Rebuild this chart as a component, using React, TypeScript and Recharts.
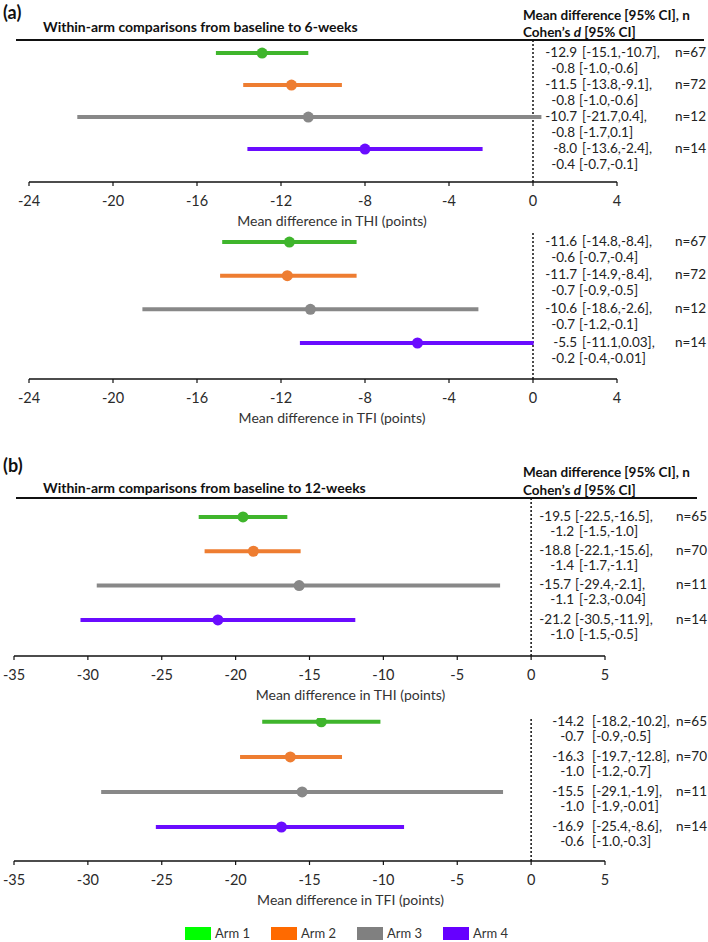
import React from 'react';
import {
  ScatterChart,
  Scatter,
  XAxis,
  YAxis,
  ErrorBar,
  ReferenceLine
} from 'recharts';

const arms = ['Arm 1', 'Arm 2', 'Arm 3', 'Arm 4'];
const armColors = ['#3fb52c', '#ee7d31', '#888888', '#6a0cff'];
const legendColors = ['#00ff00', '#ff6a00', '#808080', '#6600ff'];

const ticks6 = [-24, -20, -16, -12, -8, -4, 0, 4];
const ticks12 = [-35, -30, -25, -20, -15, -10, -5, 0, 5];

// (a) baseline to 6 weeks, THI
const thi6Mean = [-12.9, -11.5, -10.7, -8.0];
const thi6Lo = [-15.1, -13.8, -21.7, -13.6];
const thi6Hi = [-10.7, -9.1, 0.4, -2.4];
const thi6N = [67, 72, 12, 14];
const thi6D = [-0.8, -0.8, -0.8, -0.4];
const thi6DLo = [-1.0, -1.0, -1.7, -0.7];
const thi6DHi = [-0.6, -0.6, 0.1, -0.1];

// (a) baseline to 6 weeks, TFI
const tfi6Mean = [-11.6, -11.7, -10.6, -5.5];
const tfi6Lo = [-14.8, -14.9, -18.6, -11.1];
const tfi6Hi = [-8.4, -8.4, -2.6, 0.03];
const tfi6N = [67, 72, 12, 14];
const tfi6D = [-0.6, -0.7, -0.7, -0.2];
const tfi6DLo = [-0.7, -0.9, -1.2, -0.4];
const tfi6DHi = [-0.4, -0.5, -0.1, -0.01];

// (b) baseline to 12 weeks, THI
const thi12Mean = [-19.5, -18.8, -15.7, -21.2];
const thi12Lo = [-22.5, -22.1, -29.4, -30.5];
const thi12Hi = [-16.5, -15.6, -2.1, -11.9];
const thi12N = [65, 70, 11, 14];
const thi12D = [-1.2, -1.4, -1.1, -1.0];
const thi12DLo = [-1.5, -1.7, -2.3, -1.5];
const thi12DHi = [-1.0, -1.1, -0.04, -0.5];

// (b) baseline to 12 weeks, TFI
const tfi12Mean = [-14.2, -16.3, -15.5, -16.9];
const tfi12Lo = [-18.2, -19.7, -29.1, -25.4];
const tfi12Hi = [-10.2, -12.8, -1.9, -8.6];
const tfi12N = [65, 70, 11, 14];
const tfi12D = [-0.7, -1.0, -1.0, -0.6];
const tfi12DLo = [-0.9, -1.2, -1.9, -1.0];
const tfi12DHi = [-0.5, -0.7, -0.01, -0.3];

const fmt = (v: number) => (Number.isInteger(v) ? v.toFixed(1) : String(v));

const FONT = 'Lato, "Open Sans", sans-serif';
const PAD = 14; // room above the plot so the first row's text isn't clipped

type Cols = { meanEnd: number; ciStart: number; dEnd: number; dciStart: number; nEnd: number };

type ForestProps = {
  top: number;
  plotHeight: number;
  left: number;
  right: number;
  domain: [number, number];
  ticks: number[];
  yDomain: [number, number];
  title: string;
  titleShift: number;
  lineGap: number;
  cols: Cols;
  mean: number[];
  lo: number[];
  hi: number[];
  n: number[];
  d: number[];
  dLo: number[];
  dHi: number[];
};

const Forest = (p: ForestProps) => {
  const axisH = 48;
  const height = PAD + p.plotHeight + axisH;

  const rowText = (t: any) => {
    const i = t.payload.value;
    const y = t.y;
    return (
      <g fontSize={13.5} fill="#222" fontFamily={FONT}>
        <text x={p.cols.meanEnd} y={y - 1} dy="0.35em" textAnchor="end">{fmt(p.mean[i])}</text>
        <text x={p.cols.ciStart} y={y - 1} dy="0.35em">{`[${fmt(p.lo[i])},${fmt(p.hi[i])}],`}</text>
        <text x={p.cols.nEnd} y={y - 1} dy="0.35em" textAnchor="end">{`n=${p.n[i]}`}</text>
        <text x={p.cols.dEnd} y={y + p.lineGap} dy="0.35em" textAnchor="end">{fmt(p.d[i])}</text>
        <text x={p.cols.dciStart} y={y + p.lineGap} dy="0.35em">{`[${fmt(p.dLo[i])},${fmt(p.dHi[i])}]`}</text>
      </g>
    );
  };

  const axisTitle = (l: any) => {
    const vb = l.viewBox;
    return (
      <text
        x={vb.x + vb.width / 2 + p.titleShift}
        y={vb.y + 39}
        dy="0.35em"
        textAnchor="middle"
        fontSize={14}
        fill="#333"
        fontFamily={FONT}
      >
        {p.title}
      </text>
    );
  };

  return (
    <div style={{ position: 'absolute', left: 0, top: p.top - PAD }}>
      <ScatterChart
        width={708}
        height={height}
        margin={{ top: PAD, right: 0, bottom: 0, left: p.left }}
      >
        <XAxis
          type="number"
          dataKey="x"
          domain={p.domain}
          ticks={p.ticks}
          interval={0}
          allowDataOverflow
          height={axisH}
          tickSize={4}
          tickMargin={10}
          axisLine={{ stroke: '#111', strokeWidth: 1.5 }}
          tickLine={{ stroke: '#111', strokeWidth: 1.2 }}
          tick={{ fill: '#2a2a2a', fontSize: 14.5, fontFamily: FONT }}
          label={axisTitle}
        />
        <YAxis
          type="number"
          dataKey="y"
          orientation="right"
          domain={p.yDomain}
          reversed
          allowDataOverflow
          ticks={[0, 1, 2, 3]}
          interval={0}
          width={708 - p.right}
          axisLine={false}
          tickLine={false}
          tick={rowText}
        />
        <ReferenceLine x={0} stroke="#111" strokeWidth={1.5} strokeDasharray="2 2" />
        {arms.map((arm, i) => (
          <Scatter
            key={arm}
            name={arm}
            data={[{ x: p.mean[i], y: i, err: [p.mean[i] - p.lo[i], p.hi[i] - p.mean[i]] }]}
            isAnimationActive={false}
            shape={(s: any) => <circle cx={s.cx} cy={s.cy} r={5.5} fill={armColors[i]} />}
          >
            <ErrorBar
              dataKey="err"
              direction="x"
              width={0}
              stroke={armColors[i]}
              strokeWidth={4}
              isAnimationActive={false}
            />
          </Scatter>
        ))}
      </ScatterChart>
    </div>
  );
};

const headStyle = (y: number, size: number): React.CSSProperties => ({
  position: 'absolute',
  top: y - 7,
  height: 14,
  lineHeight: '14px',
  fontSize: size,
  fontWeight: 700,
  whiteSpace: 'nowrap'
});

const PanelHeader = ({ lineY, tag, heading, lineLeft, lineRight, headDy }: any) => (
  <>
    <div style={{ position: 'absolute', left: 3, top: lineY - headDy.tag - 10, height: 20, lineHeight: '20px', fontSize: 18, fontWeight: 700 }}>
      {tag}
    </div>
    <div style={{ ...headStyle(lineY - headDy.heading, 14), left: 43 }}>{heading}</div>
    <div style={{ ...headStyle(lineY - headDy.mean, 13.5), left: 523 }}>Mean difference [95% CI], n</div>
    <div style={{ ...headStyle(lineY - headDy.cohen, 13.5), left: 523 }}>
      Cohen’s <i>d</i> [95% CI]
    </div>
    <div style={{ position: 'absolute', left: lineLeft, width: lineRight - lineLeft, top: lineY - 1, height: 2, background: '#111' }} />
  </>
);

const colsA: Cols = { meanEnd: 577, ciStart: 582, dEnd: 575, dciStart: 579, nEnd: 706 };
const colsB1: Cols = { meanEnd: 571, ciStart: 575, dEnd: 574, dciStart: 579, nEnd: 707 };
const colsB2: Cols = { meanEnd: 584, ciStart: 592, dEnd: 584, dciStart: 592, nEnd: 707 };

export default function App() {
  return (
    <div
      style={{
        position: 'absolute',
        left: 0,
        top: 0,
        width: 708,
        height: 942,
        background: '#fff',
        fontFamily: FONT,
        color: '#111',
        overflow: 'hidden'
      }}
    >
      <PanelHeader
        lineY={40}
        tag="(a)"
        heading="Within-arm comparisons from baseline to 6-weeks"
        lineLeft={16}
        lineRight={704}
        headDy={{ tag: 28, heading: 13, mean: 25, cohen: 8 }}
      />
      <Forest
        top={40}
        plotHeight={142}
        left={29}
        right={617}
        domain={[-24, 4]}
        ticks={ticks6}
        yDomain={[-0.41, 4.03]}
        title="Mean difference in THI (points)"
        titleShift={9}
        lineGap={15}
        cols={colsA}
        mean={thi6Mean}
        lo={thi6Lo}
        hi={thi6Hi}
        n={thi6N}
        d={thi6D}
        dLo={thi6DLo}
        dHi={thi6DHi}
      />
      <Forest
        top={232}
        plotHeight={147}
        left={29}
        right={617}
        domain={[-24, 4]}
        ticks={ticks6}
        yDomain={[-0.3, 4.07]}
        title="Mean difference in TFI (points)"
        titleShift={9}
        lineGap={15}
        cols={colsA}
        mean={tfi6Mean}
        lo={tfi6Lo}
        hi={tfi6Hi}
        n={tfi6N}
        d={tfi6D}
        dLo={tfi6DLo}
        dHi={tfi6DHi}
      />

      <PanelHeader
        lineY={498}
        tag="(b)"
        heading="Within-arm comparisons from baseline to 12-weeks"
        lineLeft={16}
        lineRight={697}
        headDy={{ tag: 33, heading: 10, mean: 26, cohen: 8 }}
      />
      <Forest
        top={498}
        plotHeight={158}
        left={14}
        right={605}
        domain={[-35, 5]}
        ticks={ticks12}
        yDomain={[-0.55, 4.05]}
        title="Mean difference in THI (points)"
        titleShift={41}
        lineGap={14}
        cols={colsB1}
        mean={thi12Mean}
        lo={thi12Lo}
        hi={thi12Hi}
        n={thi12N}
        d={thi12D}
        dLo={thi12DLo}
        dHi={thi12DHi}
      />
      <Forest
        top={718}
        plotHeight={143}
        left={14}
        right={605}
        domain={[-35, 5]}
        ticks={ticks12}
        yDomain={[-0.11, 3.97]}
        title="Mean difference in TFI (points)"
        titleShift={41}
        lineGap={14}
        cols={colsB2}
        mean={tfi12Mean}
        lo={tfi12Lo}
        hi={tfi12Hi}
        n={tfi12N}
        d={tfi12D}
        dLo={tfi12DLo}
        dHi={tfi12DHi}
      />

      {arms.map((arm, i) => (
        <div
          key={arm}
          style={{ position: 'absolute', left: 185 + i * 86, top: 926, height: 14, display: 'flex', alignItems: 'center' }}
        >
          <div style={{ width: 26, height: 13, background: legendColors[i] }} />
          <span style={{ marginLeft: 4, fontSize: 13, color: '#333', lineHeight: '14px' }}>{arm}</span>
        </div>
      ))}
    </div>
  );
}
